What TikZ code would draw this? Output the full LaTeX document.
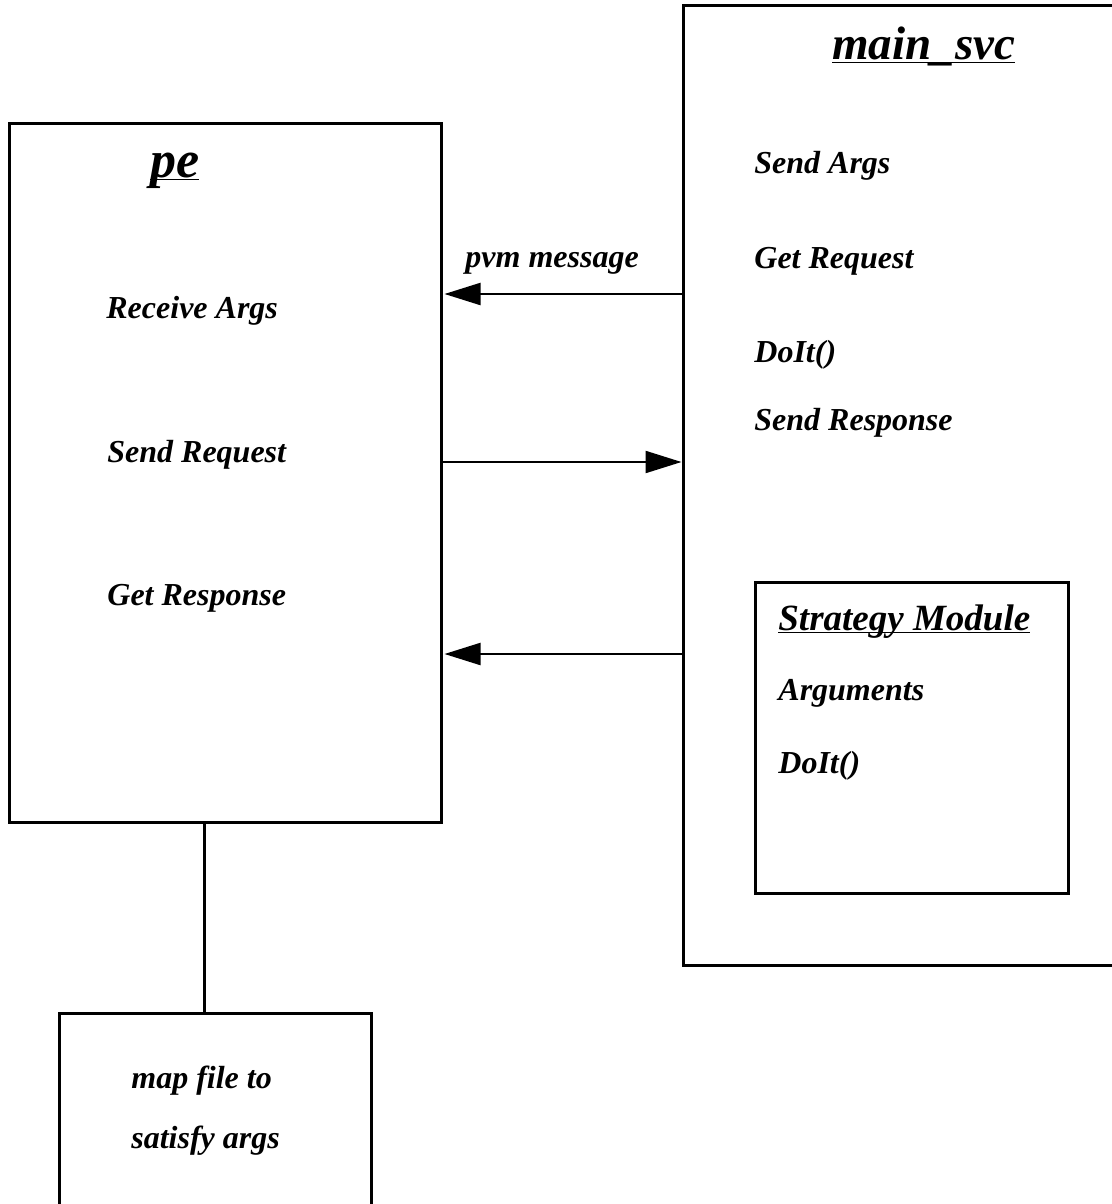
\documentclass[tikz,border=0pt]{standalone}
\usepackage{fontspec}
\setmainfont{Liberation Serif}
\usetikzlibrary{arrows.meta}

\newcommand{\ulbox}[1]{\underline{\smash{#1}}}

\tikzset{
    box/.style={draw, line width=1.5pt, inner sep=0pt},
    lbl/.style={anchor=base west, inner sep=0pt, font=\fontsize{16}{18}\selectfont\bfseries\itshape},
    ttl/.style={anchor=base west, inner sep=0pt, font=\fontsize{23.5}{26}\selectfont\bfseries\itshape},
    msg/.style={line width=1.1pt, -{Triangle[length=18pt, width=11pt]}},
    link/.style={line width=1.5pt}
}

\begin{document}
\begin{tikzpicture}[x=0.5pt, y=-0.5pt]
    \useasboundingbox (0, 0) rectangle (1112, 1204);

    % boites
    \node[box, minimum width=216pt, minimum height=349pt] (pe) at (225, 473) {};
    \node[box, minimum width=217pt, minimum height=479.5pt] (svc) at (900, 485.5) {};
    \node[box, minimum width=156.5pt, minimum height=155.5pt] (strat) at (911.5, 737.5) {};
    \node[box, minimum width=156pt, minimum height=101pt] (mapf) at (215, 1114.5) {};

    % textes de pe
    \node[ttl, font=\fontsize{26}{28}\selectfont\bfseries\itshape] (peTitle) at (150, 177) {\ulbox{pe}};
    \node[lbl] (recvArgs) at (106, 318) {Receive Args};
    \node[lbl] (sendReq) at (107, 462) {Send Request};
    \node[lbl] (getResp) at (107, 605) {Get Response};

    % textes de main_svc
    \node[ttl] (svcTitle) at (832, 60) {\ulbox{main\_svc}};
    \node[lbl] (sendArgs) at (754, 173) {Send Args};
    \node[lbl] (getReq) at (754, 268) {Get Request};
    \node[lbl] (doIt) at (754, 362) {DoIt()};
    \node[lbl] (sendResp) at (754, 430) {Send Response};

    % module de strategie
    \node[lbl, font=\fontsize{18.5}{21}\selectfont\bfseries\itshape] (stratTitle) at (778, 630) {\ulbox{Strategy Module}};
    \node[lbl] (args) at (778, 700) {Arguments};
    \node[lbl] (stratDoIt) at (778, 773) {DoIt()};

    % fichier
    \node[lbl] (mapText1) at (131, 1088) {map file to};
    \node[lbl] (mapText2) at (131, 1148) {satisfy args};

    % messages
    \coordinate (y1) at (0, 294);
    \coordinate (y2) at (0, 462);
    \coordinate (y3) at (0, 654);
    \node[lbl] (pvmMsg) at (465, 267) {pvm message};
    \draw[msg] (svc.west |- y1) -- ([xshift=1pt]pe.east |- y1);
    \draw[msg] (pe.east |- y2) -- (svc.west |- y2);
    \draw[msg] (svc.west |- y3) -- ([xshift=1pt]pe.east |- y3);

    % lien vers le fichier
    \coordinate (tap) at (204, 822);
    \draw[link] (tap) -- (tap |- mapf.north);
\end{tikzpicture}
\end{document}
